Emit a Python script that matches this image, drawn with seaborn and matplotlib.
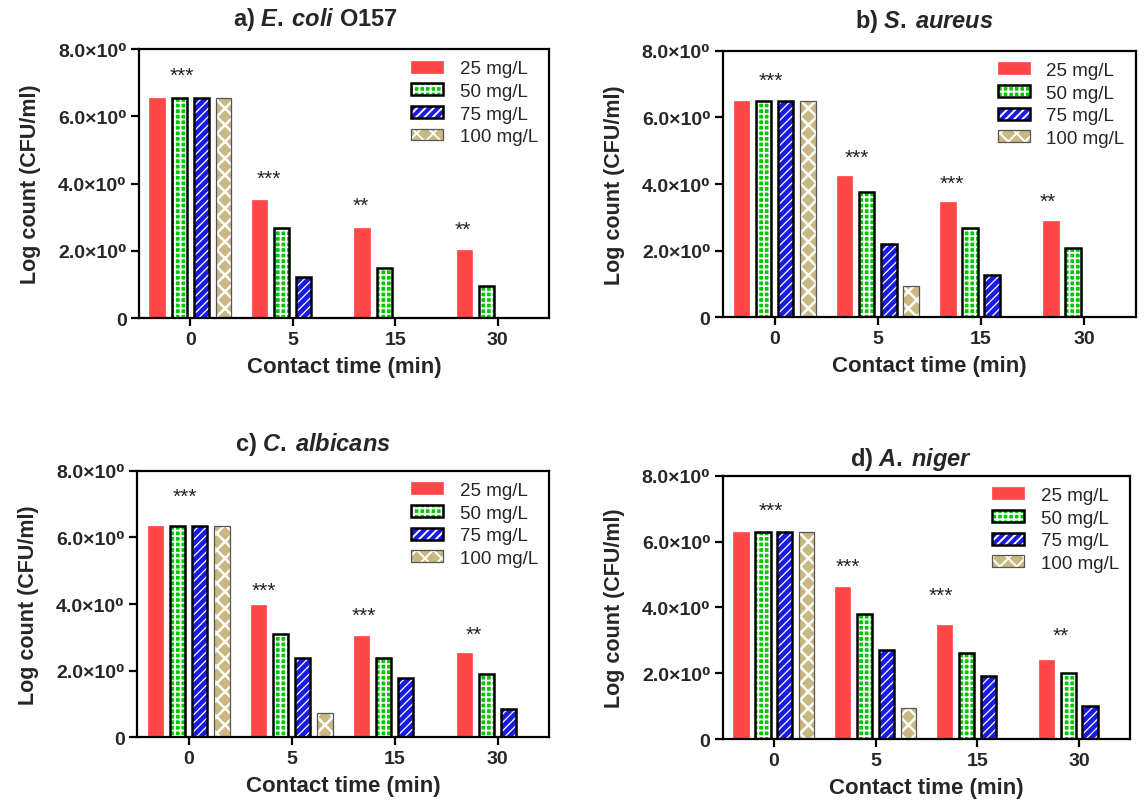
import matplotlib
matplotlib.use("Agg")
import matplotlib.pyplot as plt
import matplotlib.colors as mcolors
import numpy as np
import pandas as pd
import seaborn as sns

# ---------------- data ----------------
times = ["0", "5", "15", "30"]
concs = ["25 mg/L", "50 mg/L", "75 mg/L", "100 mg/L"]

# rows: concentration (25, 50, 75, 100 mg/L); columns: contact time (0, 5, 15, 30 min)
ecoli = [[6.55, 3.52, 2.69, 2.03],
         [6.55, 2.69, 1.50, 0.96],
         [6.55, 1.21, 0.0, 0.0],
         [6.55, 0.0, 0.0, 0.0]]
saureus = [[6.48, 4.23, 3.47, 2.88],
           [6.48, 3.77, 2.68, 2.08],
           [6.48, 2.19, 1.27, 0.0],
           [6.48, 0.95, 0.0, 0.0]]
calbicans = [[6.35, 3.98, 3.05, 2.52],
             [6.35, 3.09, 2.39, 1.89],
             [6.35, 2.39, 1.79, 0.84],
             [6.35, 0.72, 0.0, 0.0]]
aniger = [[6.30, 4.63, 3.46, 2.40],
          [6.30, 3.80, 2.60, 2.00],
          [6.30, 2.70, 1.90, 1.00],
          [6.30, 0.93, 0.0, 0.0]]

titles = [r"a) $\mathit{E.\:coli}$ O157", r"b) $\mathit{S.\:aureus}$",
          r"c) $\mathit{C.\:albicans}$", r"d) $\mathit{A.\:niger}$"]

yticks = [0, 2, 4, 6, 8]
ytick_labels = ["0", "2.0\u00d710\u2070", "4.0\u00d710\u2070", "6.0\u00d710\u2070", "8.0\u00d710\u2070"]

# significance annotations (text, x offset from time category, y position)
stars = [["***", "***", "**", "**"],
         ["***", "***", "***", "**"],
         ["***", "***", "***", "**"],
         ["***", "***", "***", "**"]]
star_dx = [[-0.08, -0.23, -0.34, -0.34],
           [-0.04, -0.20, -0.28, -0.35],
           [-0.04, -0.27, -0.30, -0.23],
           [-0.03, -0.27, -0.36, -0.18]]
star_y = [[7.22, 4.15, 3.35, 2.63],
          [7.10, 4.80, 4.02, 3.49],
          [7.22, 4.40, 3.65, 3.10],
          [6.96, 5.24, 4.35, 3.14]]

# ---------------- style ----------------
sns.set_theme(style="white")
plt.rcParams["font.family"] = ["Liberation Sans", "DejaVu Sans"]
plt.rcParams["mathtext.fontset"] = "custom"
plt.rcParams["mathtext.it"] = "Liberation Sans:italic:bold"
plt.rcParams["mathtext.rm"] = "Liberation Sans:bold"
plt.rcParams["mathtext.bf"] = "Liberation Sans:bold"
plt.rcParams["hatch.linewidth"] = 1.4

colors = ["#ff4747", "#00c800", "#1a1ae6", "#c9b882"]
styles = [
    dict(hatch="", edge="#ff4747", lw=0.5, hcolor="#ff4747", hlw=1.0),
    dict(hatch="+++", edge="black", lw=1.8, hcolor="white", hlw=1.3),
    dict(hatch="////", edge="black", lw=1.8, hcolor="white", hlw=0.9),
    dict(hatch="xx", edge="#555555", lw=0.9, hcolor="white", hlw=1.8),
]

fig = plt.figure(figsize=(11.45, 8.04), dpi=100)
rects = [
    [0.1214, 0.6032, 0.3581, 0.3346],
    [0.6314, 0.6039, 0.3607, 0.3318],
    [0.1197, 0.0817, 0.3598, 0.3316],
    [0.6314, 0.0796, 0.3555, 0.3275],
]
title_x = [0.43, 0.487, 0.427, 0.462]
title_pad = [17, 17, 15, 8]
datasets = [ecoli, saureus, calbicans, aniger]

for k, (vals, rect) in enumerate(zip(datasets, rects)):
    ax = fig.add_axes(rect)
    rows = []
    for ci, c in enumerate(concs):
        for ti, t in enumerate(times):
            rows.append({"time": t, "conc": c, "value": vals[ci][ti]})
    df = pd.DataFrame(rows)
    sns.barplot(data=df, x="time", y="value", hue="conc", order=times,
                hue_order=concs, palette=colors, saturation=1, width=0.86,
                gap=0.3, errorbar=None, legend=False, ax=ax)
    for ci, cont in enumerate(ax.containers):
        st = styles[ci]
        for p in cont:
            p.set_edgecolor(st["edge"])
            p.set_linewidth(st["lw"])
            p.set_hatch(st["hatch"])
            p._hatch_color = mcolors.to_rgba(st["hcolor"])
            if hasattr(p, "set_hatch_linewidth"):
                p.set_hatch_linewidth(st["hlw"])
            else:
                p._hatch_linewidth = st["hlw"]
            if p.get_height() == 0:
                p.set_visible(False)

    handles = [cont[0] for cont in ax.containers]
    ax.legend(handles, concs, loc="upper right", frameon=False, fontsize=13.5,
              handlelength=1.7, handleheight=0.6, labelspacing=0.3,
              handletextpad=0.9, borderaxespad=0.2)

    for ti in range(len(times)):
        ax.text(ti + star_dx[k][ti], star_y[k][ti], stars[k][ti], ha="center",
                va="center", fontsize=15, color="#222222")

    ax.set_xlim(-0.5, 3.5)
    ax.set_ylim(0, 8)
    ax.set_yticks(yticks)
    ax.set_yticklabels(ytick_labels)
    ax.set_xlabel("Contact time (min)", fontsize=16, fontweight="bold", labelpad=6)
    ax.set_ylabel("Log count (CFU/ml)", fontsize=15.5, fontweight="bold", labelpad=12)
    ax.set_title(titles[k], fontsize=17, fontweight="bold", x=title_x[k], pad=title_pad[k])
    for sp in ax.spines.values():
        sp.set_visible(True)
        sp.set_color("black")
        sp.set_linewidth(1.6)
    ax.tick_params(axis="both", bottom=True, left=True, direction="out",
                   length=6, width=1.6, color="black", labelsize=14, pad=3)
    for lbl in ax.get_xticklabels() + ax.get_yticklabels():
        lbl.set_fontweight("bold")

fig.savefig("out.png", dpi=100)
